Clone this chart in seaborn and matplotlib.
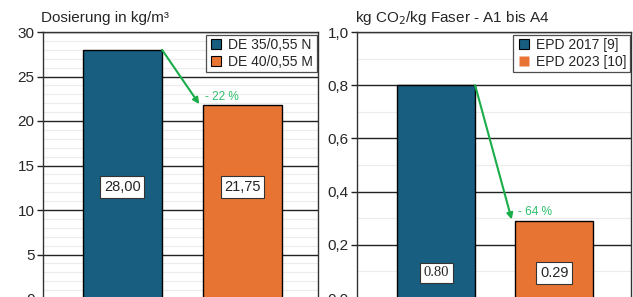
import matplotlib

matplotlib.use("Agg")
import matplotlib.pyplot as plt
import seaborn as sns
from matplotlib.lines import Line2D
from matplotlib.ticker import MultipleLocator, FuncFormatter

# data
dos_labels = ["DE 35/0,55 N", "DE 40/0,55 M"]
dos_values = [28.00, 21.75]
dos_text = ["28,00", "21,75"]
dos_change = "- 22 %"

co2_labels = ["EPD 2017 [9]", "EPD 2023 [10]"]
co2_values = [0.80, 0.29]
co2_text = ["0.80", "0.29"]
co2_change = "- 64 %"

BLUE = "#185e80"
ORANGE = "#e87433"
GREEN = "#1aad4a"
GREEN_TXT = "#2dbf6c"

sns.set_style("white")
plt.rcParams["font.family"] = ["Liberation Sans", "DejaVu Sans"]

fig = plt.figure(figsize=(6.33, 2.97), dpi=100)
ax1 = fig.add_axes([43 / 633, 1 - 299 / 297, 275 / 633, 267 / 297])
ax2 = fig.add_axes([357 / 633, 1 - 298 / 297, 274 / 633, 266 / 297])

W = 0.66


def style_axes(ax, ymax, major, minor, fmt):
    ax.set_ylim(0, ymax)
    ax.yaxis.set_major_locator(MultipleLocator(major))
    ax.yaxis.set_minor_locator(MultipleLocator(minor))
    ax.yaxis.set_major_formatter(FuncFormatter(fmt))
    ax.grid(True, which="major", axis="y", color="#222222", lw=1.0, zorder=0)
    ax.grid(True, which="minor", axis="y", color="#ececec", lw=0.8, zorder=0)
    ax.set_axisbelow(True)
    ax.tick_params(axis="y", which="major", direction="out", length=4,
                   width=1, color="#222222", labelsize=11, pad=2, left=True)
    ax.tick_params(axis="y", which="minor", length=0)
    ax.set_xticks([])
    ax.set_xlabel("")
    ax.set_ylabel("")
    for s in ax.spines.values():
        s.set_color("#333333")
        s.set_linewidth(1.0)


def draw_panel(ax, labels, values, texts, change, xlim, text_y, ymax,
               major, minor, fmt, label_fonts, leg_edges):
    sns.barplot(x=labels, y=values, hue=labels, palette=[BLUE, ORANGE],
                saturation=1, width=W, edgecolor="black", linewidth=1.0,
                legend=False, ax=ax, zorder=3)
    ax.set_xlim(*xlim)
    style_axes(ax, ymax, major, minor, fmt)
    for i, (t, fam) in enumerate(zip(texts, label_fonts)):
        ax.text(i, text_y, t, ha="center", va="center", fontsize=10.5,
                family=fam, zorder=5,
                bbox=dict(boxstyle="square,pad=0.25", fc="white",
                          ec="#333333", lw=0.8))
    # change arrow
    ax.annotate("", xy=(1 - W / 2 - 0.03, values[1] + ymax * 0.005),
                xytext=(W / 2, values[0]),
                arrowprops=dict(arrowstyle="-|>", color=GREEN, lw=1.5,
                                mutation_scale=9, shrinkA=0, shrinkB=0),
                zorder=6)
    ax.text(1 - W / 2 + 0.02, values[1] + ymax * 0.032, change,
            color=GREEN_TXT, fontsize=8.5, ha="left", va="center", zorder=6)
    handles = [
        Line2D([], [], marker="s", ls="", markersize=7,
               markerfacecolor=c, markeredgecolor=e, markeredgewidth=0.8)
        for c, e in zip([BLUE, ORANGE], leg_edges)
    ]
    leg = ax.legend(handles, labels, loc="upper right",
                    bbox_to_anchor=(1.0, 0.995), fontsize=10,
                    frameon=True, fancybox=False, handletextpad=0.35,
                    handlelength=1.0, borderpad=0.25, labelspacing=0.2,
                    borderaxespad=0.1)
    leg.get_frame().set_edgecolor("#222222")
    leg.get_frame().set_linewidth(0.9)
    leg.set_zorder(7)


draw_panel(ax1, dos_labels, dos_values, dos_text, dos_change,
           (-0.6625, 1.63), 12.6, 30, 5, 1,
           lambda v, p: f"{v:.0f}",
           ["Liberation Sans", "Liberation Sans"], ["black", "black"])
draw_panel(ax2, co2_labels, co2_values, co2_text, co2_change,
           (-0.67, 1.65), 0.094, 1.0, 0.2, 0.1,
           lambda v, p: f"{v:.1f}".replace(".", ","),
           ["Liberation Serif", "Liberation Sans"], ["black", "none"])

fig.text(41 / 633, 1 - 18 / 297, "Dosierung in kg/m³", fontsize=11,
         ha="left", va="center")
fig.text(355 / 633, 1 - 18 / 297, "kg CO$_2$/kg Faser - A1 bis A4",
         fontsize=11, ha="left", va="center")

fig.savefig("out.png", dpi=100)
